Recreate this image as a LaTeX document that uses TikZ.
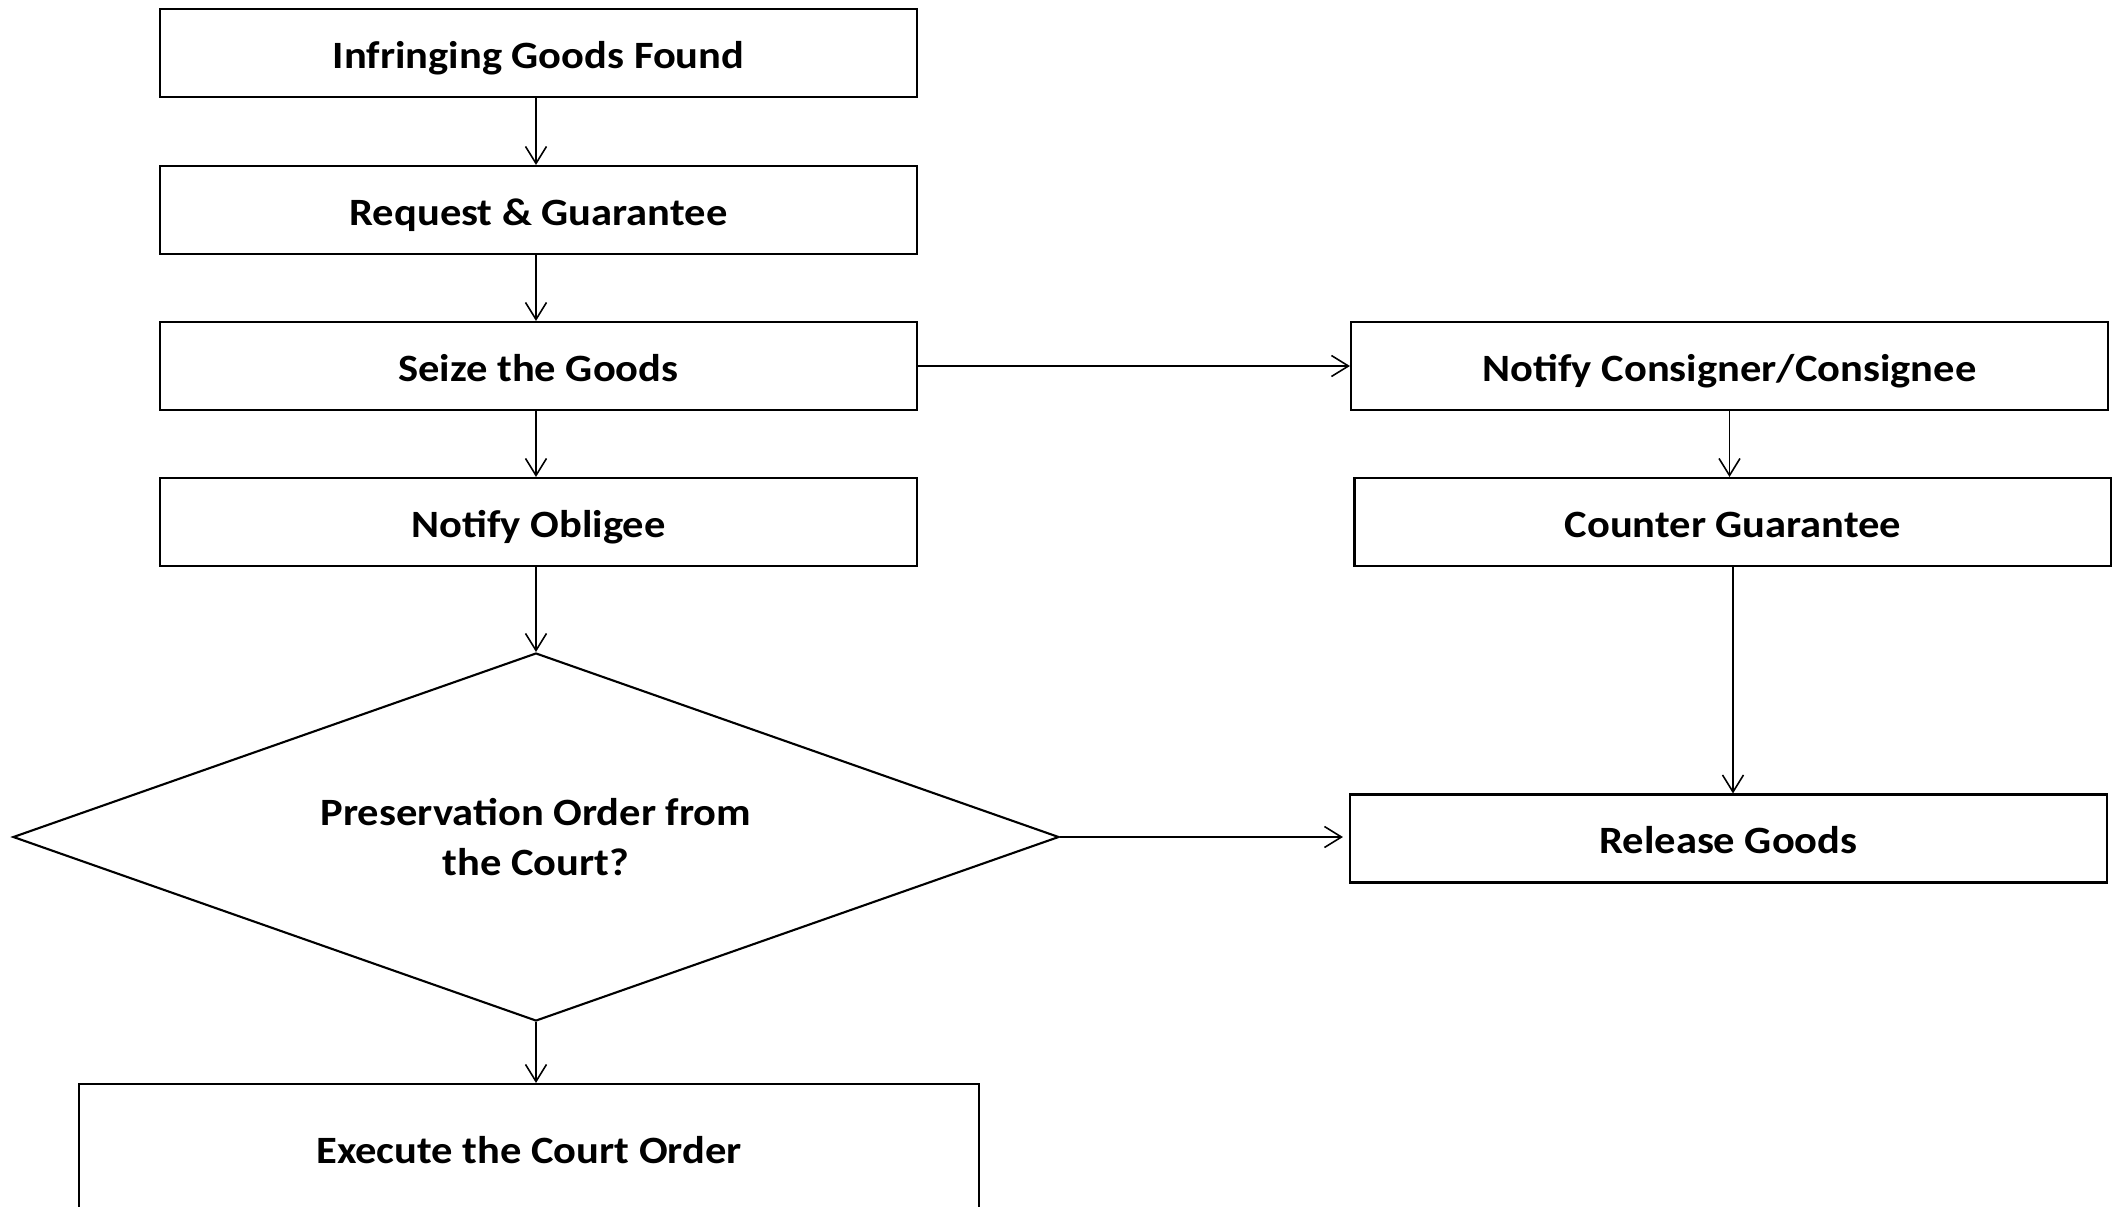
\documentclass[tikz,border=0pt]{standalone}
\usepackage{fontspec}
\setmainfont{Carlito}[FakeStretch=1.1]
\usepackage{tikz}
\usetikzlibrary{shapes.geometric, arrows.meta}
\tikzset{
  stepbox/.style={draw, line width=0.6pt, minimum width=7.57cm, minimum height=0.88cm,
    inner sep=0pt, text height=1.8ex, text depth=0pt, font=\bfseries\fontsize{11}{14.2}\selectfont},
  askbox/.style={draw, diamond, aspect=2.84, line width=0.6pt, minimum width=10.46cm, minimum height=3.68cm,
    inner sep=0pt, align=center, font=\bfseries\fontsize{11}{14.2}\selectfont},
  flow/.style={-{Straight Barb[length=1.7mm, width=2.1mm]}, line width=0.45pt}
}

\begin{document}
\begin{tikzpicture}
  \useasboundingbox (0,0) rectangle (21.12,-12.06);
  \clip (0,0) rectangle (21.12,-12.06);
  % left column
  \node[stepbox] (found) at (5.385,-0.53) {Infringing Goods Found};
  \node[stepbox] (request) at (5.385,-2.10) {Request \& Guarantee};
  \node[stepbox] (seize) at (5.385,-3.66) {Seize the Goods};
  \node[stepbox] (obligee) at (5.385,-5.22) {Notify Obligee};
  \node[askbox] (court) at (5.36,-8.37) {Preservation Order from\\the Court?};
  \node[stepbox, minimum width=9.0cm, minimum height=1.28cm] (execute) at (5.29,-11.48) {Execute the Court Order};
  % right column
  \node[stepbox] (consignee) at (17.295,-3.66) {Notify Consigner/Consignee};
  \node[stepbox] (counter) at (17.33,-5.22) {Counter Guarantee};
  \node[stepbox] (release) at (17.285,-8.385) {Release Goods};

  \draw[flow] (found.south -| court.north) -- (request.north -| court.north);
  \draw[flow] (request.south -| court.north) -- (seize.north -| court.north);
  \draw[flow] (seize.south -| court.north) -- (obligee.north -| court.north);
  \draw[flow] (obligee.south -| court.north) -- (court.north);
  \draw[flow] (court.south) -- (execute.north -| court.south);
  \draw[flow] (seize.east) -- (consignee.west);
  \draw[flow] (consignee.south) -- (counter.north -| consignee.south);
  \draw[flow] (counter.south) -- (release.north -| counter.south);
  \draw[flow, shorten >=0.6mm] (court.east) -- (release.west |- court.east);
\end{tikzpicture}
\end{document}
